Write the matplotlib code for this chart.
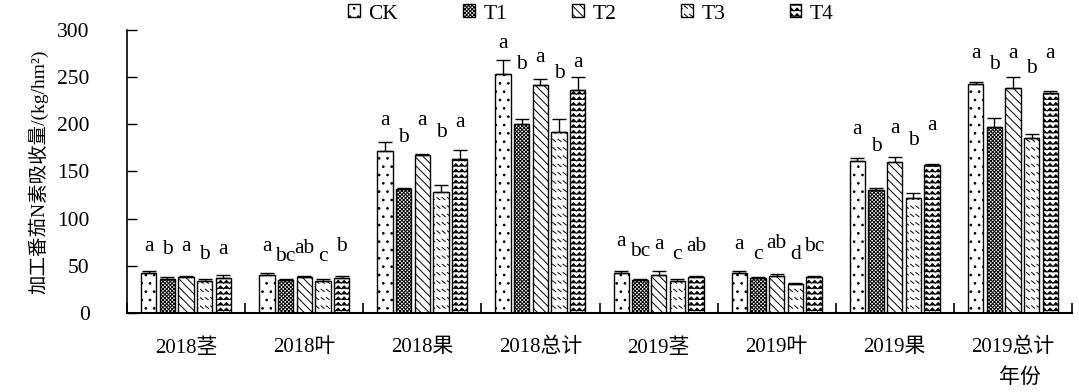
import warnings
warnings.filterwarnings("ignore")
import numpy as np
import matplotlib
matplotlib.use("Agg")
import matplotlib.pyplot as plt
import matplotlib.hatch as mhatch
from matplotlib.path import Path

# ---------------- data ----------------
categories = ["2018茎", "2018叶", "2018果", "2018总计", "2019茎", "2019叶", "2019果", "2019总计"]
series = ["CK", "T1", "T2", "T3", "T4"]
CK = [42, 40, 172, 253, 42, 42, 161, 243]
T1 = [36, 35, 131, 200, 35, 37, 130, 197]
T2 = [38, 38, 168, 242, 40, 39, 160, 239]
T3 = [34, 34, 128, 192, 34, 31, 122, 186]
T4 = [37, 37, 163, 236, 38, 38, 157, 233]
CK_err = [2, 2, 9, 15, 2, 2, 3, 2]
T1_err = [2, 1, 1, 6, 1, 1, 3, 10]
T2_err = [1, 1, 1, 6, 5, 2, 5, 11]
T3_err = [2, 2, 8, 14, 2, 1, 5, 4]
T4_err = [3, 2, 10, 14, 1, 1, 1, 2]
CK_sig = ["a", "a", "a", "a", "a", "a", "a", "a"]
T1_sig = ["b", "bc", "b", "b", "bc", "c", "b", "b"]
T2_sig = ["a", "ab", "a", "a", "a", "ab", "a", "a"]
T3_sig = ["b", "c", "b", "b", "c", "d", "b", "b"]
T4_sig = ["a", "b", "a", "a", "ab", "bc", "a", "a"]
# heights (data units) at which the significance letters sit
CK_sig_y = [70, 70, 204, 286, 76, 73, 195, 275]
T1_sig_y = [67, 60, 186, 263, 65, 62, 177, 263]
T2_sig_y = [70, 68, 204, 271, 73, 74, 196, 275]
T3_sig_y = [62, 60, 191, 254, 62, 62, 183, 259]
T4_sig_y = [67, 70, 202, 266, 70, 70, 199, 275]
yticks = [0, 50, 100, 150, 200, 250, 300]
ylabel = "加工番茄N素吸收量/(kg/hm²)"
xlabel = "年份"

# ---------------- custom hatches ----------------
class WaveHatch(mhatch.HatchPatternBase):
    def __init__(self, hatch, density):
        self.num_lines = int(hatch.count('~') * density)
        self.nseg = 34
        self.num_vertices = self.num_lines * (self.nseg + 1)

    def set_vertices_and_codes(self, vertices, codes):
        steps, stepsize = np.linspace(0.0, 1.0, self.num_lines, False, retstep=True)
        amp = stepsize * 0.55
        xs = np.linspace(0, 1, self.nseg + 1)
        ys = np.array([amp if j % 2 else 0.0 for j in range(self.nseg + 1)])
        k = 0
        for s in steps:
            for j in range(self.nseg + 1):
                vertices[k, 0] = xs[j]
                vertices[k, 1] = s + ys[j]
                codes[k] = Path.MOVETO if j == 0 else Path.LINETO
                k += 1


class DashHatch(mhatch.HatchPatternBase):
    def __init__(self, hatch, density):
        self.num_lines = int(hatch.count(':') * density)
        self.ncol = int(self.num_lines * 1.6)
        self.num_vertices = self.num_lines * self.ncol * 2 if self.num_lines else 0

    def set_vertices_and_codes(self, vertices, codes):
        rows = np.linspace(0.0, 1.0, self.num_lines, False)
        cols = np.linspace(0.0, 1.0, self.ncol, False)
        dx = 1.0 / self.ncol * 0.6
        dy = 1.0 / self.num_lines * 0.3
        k = 0
        for r in rows:
            for c in cols:
                vertices[k] = (c, r + dy)
                codes[k] = Path.MOVETO
                vertices[k + 1] = (c + dx, r)
                codes[k + 1] = Path.LINETO
                k += 2


mhatch._hatch_types.append(WaveHatch)
mhatch._hatch_types.append(DashHatch)

# ---------------- plot ----------------
fam = ["Liberation Serif", "Noto Sans CJK SC", "DejaVu Sans"]
plt.rcParams["font.family"] = fam
plt.rcParams["hatch.linewidth"] = 0.7
plt.rcParams["hatch.color"] = "black"

fig = plt.figure(figsize=(10.79, 3.92), dpi=100)
ax = fig.add_axes([127 / 1079, 1 - 313 / 392, (1072 - 127) / 1079, (313 - 30) / 392])

values = [CK, T1, T2, T3, T4]
errs = [CK_err, T1_err, T2_err, T3_err, T4_err]
sigs = [CK_sig, T1_sig, T2_sig, T3_sig, T4_sig]
sig_y = [CK_sig_y, T1_sig_y, T2_sig_y, T3_sig_y, T4_sig_y]
hatches = ["..", "xxxxxxxxx", "\\\\\\\\", "::", "~~~"]

x = np.arange(len(categories)) + 0.5
step = 0.158
width = 0.13
handles = []
for i, name in enumerate(series):
    xi = x + (i - 2) * step
    b = ax.bar(xi, values[i], width, facecolor="white", edgecolor="black",
               linewidth=1.0, hatch=hatches[i], label=name, zorder=2)
    handles.append(b)
    ax.errorbar(xi, values[i], yerr=[np.zeros(len(values[i])), errs[i]],
                fmt="none", ecolor="black", elinewidth=1.0, capsize=5,
                capthick=1.0, zorder=3)
    for xx, s, yy in zip(xi, sigs[i], sig_y[i]):
        ax.text(xx, yy, s, ha="center", va="center", fontsize=15.5,
                family=fam)

ax.set_xlim(0, len(categories))
ax.set_ylim(0, 300)
ax.set_yticks(yticks)
ax.set_xticks(np.arange(len(categories) + 1))
ax.set_xticklabels([])
ax.set_xticks(x, minor=True)
ax.set_xticklabels(categories, minor=True, fontsize=15)
ax.tick_params(axis="x", which="major", direction="in", length=7, width=1.2)
ax.tick_params(axis="x", which="minor", length=0, pad=18)
ax.tick_params(axis="y", direction="in", length=7, width=1.0, pad=27, labelsize=15.5)
for s in ["top", "right"]:
    ax.spines[s].set_visible(False)
ax.spines["left"].set_linewidth(1.2)
ax.spines["bottom"].set_linewidth(1.5)

ax.set_ylabel(ylabel, fontsize=14, labelpad=6)
fig.text(1020 / 1079, 1 - 378 / 392, xlabel, ha="center", va="center",
         fontsize=15, family=fam)

fig.legend(handles=handles, labels=series, loc="center", ncol=5,
           bbox_to_anchor=(591 / 1079, 1 - 14 / 392), frameon=False,
           fontsize=15.5, handlelength=0.55, handleheight=0.55,
           handletextpad=0.4, columnspacing=3.0)

fig.savefig("out.png", dpi=100)
